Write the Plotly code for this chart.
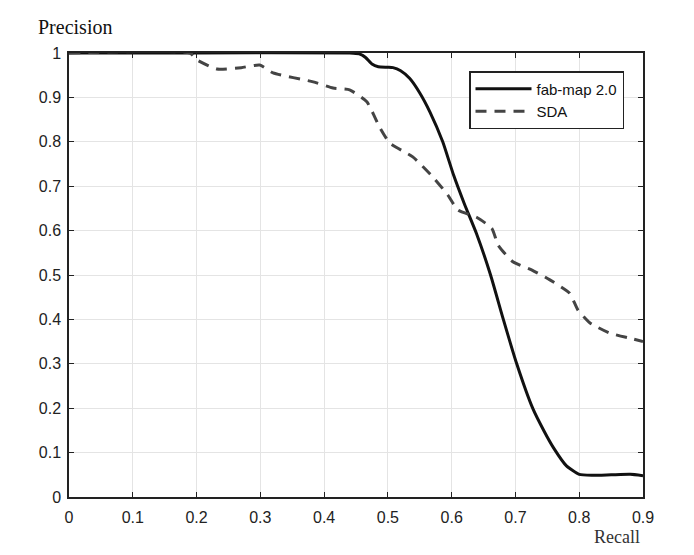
import plotly.graph_objects as go

fab_x = [0.0, 0.2, 0.44, 0.455, 0.465, 0.475, 0.485, 0.50, 0.508, 0.52, 0.534, 0.55, 0.566, 0.586, 0.603, 0.62, 0.639, 0.661, 0.681, 0.702, 0.727, 0.745, 0.76, 0.78, 0.80, 0.82, 0.85, 0.88, 0.9]
fab_y = [1.0, 1.0, 1.0, 0.998, 0.99, 0.975, 0.969, 0.968, 0.967, 0.96, 0.943, 0.91, 0.867, 0.80, 0.725, 0.66, 0.593, 0.5, 0.4, 0.3, 0.2, 0.148, 0.11, 0.07, 0.051, 0.049, 0.05, 0.051, 0.048]

sda_x = [0.0, 0.19, 0.20, 0.232, 0.27, 0.299, 0.32, 0.383, 0.414, 0.44, 0.467, 0.487, 0.503, 0.539, 0.571, 0.594, 0.61, 0.639, 0.663, 0.673, 0.696, 0.726, 0.754, 0.785, 0.798, 0.817, 0.848, 0.884, 0.9]
sda_y = [1.0, 1.0, 0.985, 0.964, 0.967, 0.973, 0.955, 0.935, 0.921, 0.917, 0.89, 0.833, 0.797, 0.766, 0.72, 0.68, 0.646, 0.63, 0.605, 0.567, 0.53, 0.511, 0.489, 0.459, 0.421, 0.392, 0.369, 0.356, 0.35]

x_ticks = [0, 0.1, 0.2, 0.3, 0.4, 0.5, 0.6, 0.7, 0.8, 0.9]
x_labels = ["0", "0.1", "0.2", "0.3", "0.4", "0.5", "0.6", "0.7", "0.8", "0.9"]
y_ticks = [0, 0.1, 0.2, 0.3, 0.4, 0.5, 0.6, 0.7, 0.8, 0.9, 1.0]
y_labels = ["0", "0.1", "0.2", "0.3", "0.4", "0.5", "0.6", "0.7", "0.8", "0.9", "1"]

fig = go.Figure()
fig.add_trace(go.Scatter(x=fab_x, y=fab_y, mode="lines", name="fab-map 2.0",
                         line=dict(color="#111111", width=3, shape="spline", smoothing=0.5)))
fig.add_trace(go.Scatter(x=sda_x, y=sda_y, mode="lines", name="SDA",
                         line=dict(color="#444444", width=3, dash="11px,8px", shape="spline", smoothing=0.5)))

axis_common = dict(showgrid=True, gridcolor="#e4e4e4", gridwidth=1, showline=True,
                   linecolor="#222222", linewidth=1.5, mirror="ticks", ticks="inside",
                   ticklen=5, tickcolor="#222222", zeroline=False,
                   tickfont=dict(family="Liberation Sans, Arial", size=16, color="#222222"))

fig.update_xaxes(range=[0, 0.9], tickvals=x_ticks, ticktext=x_labels, ticklabelstandoff=5, **axis_common)
fig.update_yaxes(range=[0, 1.0], tickvals=y_ticks, ticktext=y_labels, ticklabelstandoff=3, **axis_common)

pw = 694 - 69 - 51
ph = 555 - 53 - 58

fig.update_layout(
    width=694, height=555,
    margin=dict(l=69, r=51, t=53, b=58),
    plot_bgcolor="white", paper_bgcolor="white",
    showlegend=True,
    legend=dict(x=(469 - 69) / pw, y=(497 - 71) / ph, xanchor="left", yanchor="top",
                bgcolor="white", bordercolor="#222222", borderwidth=1.5,
                font=dict(family="Liberation Sans, Arial", size=15, color="#111111"),
                tracegroupgap=0, itemwidth=56),
    annotations=[
        dict(text="Precision", xref="paper", yref="paper",
             x=(36 - 69) / pw, y=(497 - 27) / ph, xanchor="left", yanchor="middle",
             showarrow=False,
             font=dict(family="Liberation Serif, Times New Roman", size=20, color="#111111")),
        dict(text="Recall", xref="paper", yref="paper",
             x=(642 - 69) / pw, y=(497 - 537) / ph, xanchor="right", yanchor="middle",
             showarrow=False,
             font=dict(family="Liberation Serif, Times New Roman", size=18, color="#333333")),
    ],
)

fig.write_html("out.html")
